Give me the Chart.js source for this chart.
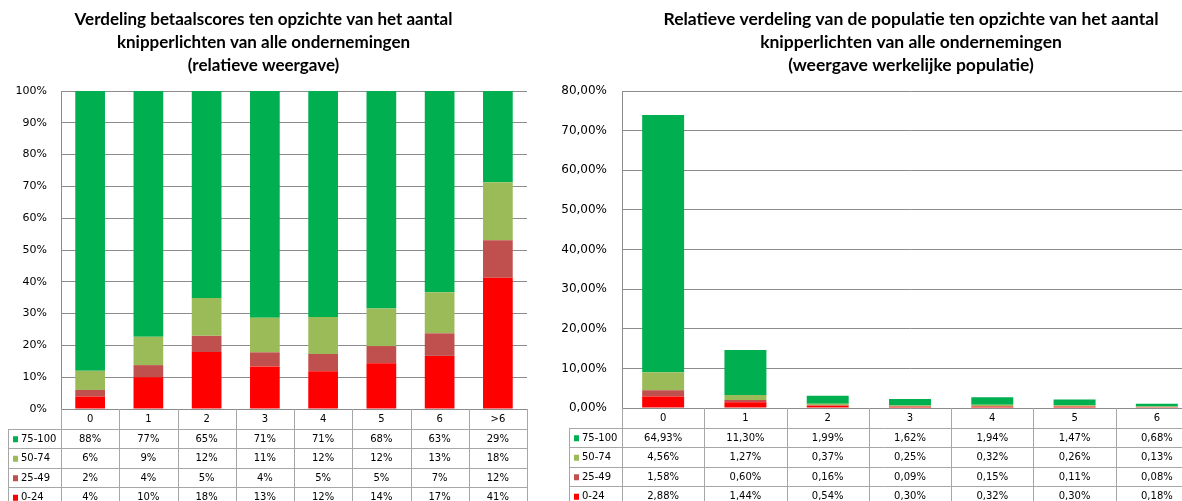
<!DOCTYPE html>
<html lang="nl">
<head>
    <meta charset="UTF-8">
    <title>Verdeling betaalscores en knipperlichten</title>
    <script src="https://cdn.jsdelivr.net/npm/chart.js@4.4.1/dist/chart.umd.min.js"></script>
    <style>
        body {
            margin: 0;
            background: #ffffff;
            overflow: hidden;
            width: 1182px;
            height: 501px;
            position: relative;
        }
        canvas {
            position: absolute;
            top: 0;
        }
        #leftChart { left: 0; }
        #rightChart { left: 540px; }
    </style>
</head>
<body>
    <canvas id="leftChart" width="530" height="501"></canvas>
    <canvas id="rightChart" width="742" height="501"></canvas>

    <script>
        // Series names (bottom of the stack first)
        const seriesNames = ['0-24', '25-49', '50-74', '75-100'];
        const seriesColors = ['#ff0000', '#c0504d', '#9bbb59', '#00b050'];

        // Left chart: relative distribution per number of warning lights
        const leftCategories = ['0', '1', '2', '3', '4', '5', '6', '>6'];
        const left0to24 = [3.9, 10.0, 17.9, 13.4, 11.9, 14.4, 16.7, 41.3];
        const left25to49 = [2.1, 3.8, 5.1, 4.4, 5.4, 5.4, 7.1, 11.8];
        const left50to74 = [6.0, 8.9, 11.9, 10.9, 11.6, 11.8, 12.9, 18.2];
        const left75to100 = [88.0, 77.3, 65.1, 71.3, 71.1, 68.4, 63.3, 28.7];
        const leftTicks = [0, 10, 20, 30, 40, 50, 60, 70, 80, 90, 100];

        // Right chart: share of the whole population
        const rightCategories = ['0', '1', '2', '3', '4', '5', '6'];
        const right0to24 = [2.88, 1.44, 0.54, 0.30, 0.32, 0.30, 0.18];
        const right25to49 = [1.58, 0.60, 0.16, 0.09, 0.15, 0.11, 0.08];
        const right50to74 = [4.56, 1.27, 0.37, 0.25, 0.32, 0.26, 0.13];
        const right75to100 = [64.93, 11.30, 1.99, 1.62, 1.94, 1.47, 0.68];
        const rightTicks = [0, 10, 20, 30, 40, 50, 60, 70, 80];

        const gridColor = '#8c8c8c';
        const tableColor = '#a6a6a6';

        // draws the data table under the plot, using the x scale's columns
        function tablePlugin(format, legendLeft) {
            return {
                id: 'dataTable',
                afterDraw(chart) {
                    const ctx = chart.ctx;
                    const area = chart.chartArea;
                    const labels = chart.data.labels;
                    const n = labels.length;
                    const colW = (area.right - area.left) / n;
                    const top = area.bottom;
                    const rowH = 19.5;
                    const bottom = chart.height + 5;
                    const sets = chart.data.datasets.slice().reverse();

                    ctx.save();
                    ctx.strokeStyle = tableColor;
                    ctx.lineWidth = 1;
                    ctx.beginPath();
                    for (let i = 0; i <= n; i++) {
                        const x = Math.round(area.left + i * colW) + 0.5;
                        ctx.moveTo(x, top);
                        ctx.lineTo(x, bottom);
                    }
                    for (let r = 1; r <= 4; r++) {
                        const y = Math.round(top + r * rowH) + 0.5;
                        ctx.moveTo(legendLeft, y);
                        ctx.lineTo(area.right, y);
                    }
                    ctx.moveTo(legendLeft + 0.5, Math.round(top + rowH));
                    ctx.lineTo(legendLeft + 0.5, bottom);
                    ctx.stroke();

                    ctx.font = '10px "DejaVu Sans"';
                    ctx.fillStyle = '#000';
                    ctx.textBaseline = 'middle';
                    ctx.textAlign = 'center';
                    labels.forEach((lab, i) => {
                        ctx.fillText(lab, area.left + (i + 0.5) * colW, top + rowH / 2 + 1);
                    });
                    sets.forEach((ds, r) => {
                        const yMid = top + (r + 1.5) * rowH + 1;
                        ctx.textAlign = 'center';
                        ctx.fillStyle = '#000';
                        ds.data.forEach((v, i) => {
                            ctx.fillText(format(v), area.left + (i + 0.5) * colW, yMid);
                        });
                        ctx.fillStyle = ds.backgroundColor;
                        ctx.fillRect(legendLeft + 5, yMid - 3, 5, 6);
                        ctx.fillStyle = '#000';
                        ctx.textAlign = 'left';
                        ctx.fillText(ds.label, legendLeft + 13, yMid);
                    });
                    ctx.restore();
                }
            };
        }

        function makeDatasets(series, barPct) {
            return series.map((data, i) => ({
                label: seriesNames[i],
                data: data,
                backgroundColor: seriesColors[i],
                borderWidth: 0,
                barPercentage: barPct,
                categoryPercentage: 1
            }));
        }

        function makeChart(id, cfg) {
            const scales = {
                x: { stacked: true, display: false },
                y: {
                    stacked: true,
                    min: cfg.ticks[0],
                    max: cfg.ticks[cfg.ticks.length - 1],
                    afterBuildTicks: (s) => { s.ticks = cfg.ticks.map(v => ({ value: v })); },
                    afterFit: (s) => { s.width = cfg.axisWidth; },
                    ticks: {
                        callback: cfg.tickFormat,
                        color: '#000',
                        font: { family: 'DejaVu Sans', size: cfg.tickSize },
                        padding: cfg.tickPad
                    },
                    grid: { color: gridColor, drawTicks: false },
                    border: { color: gridColor }
                }
            };
            // empty right axis: keeps room at the right so the title stays centred on the full chart
            if (cfg.rightSpace) {
                scales.yRight = {
                    position: 'right',
                    min: 0,
                    max: 1,
                    ticks: { display: false },
                    grid: { display: false },
                    border: { display: false },
                    afterFit: (s) => { s.width = cfg.rightSpace; }
                };
            }
            return new Chart(document.getElementById(id), {
                type: 'bar',
                data: {
                    labels: cfg.labels,
                    datasets: makeDatasets(cfg.series, 0.51)
                },
                options: {
                    responsive: false,
                    animation: false,
                    layout: { padding: { left: 0, right: cfg.padRight, top: 7, bottom: cfg.padBottom } },
                    plugins: {
                        legend: { display: false },
                        tooltip: { enabled: false },
                        title: {
                            display: true,
                            text: cfg.title,
                            color: '#000',
                            font: { family: 'Lato', size: cfg.titleSize, weight: 'bold', lineHeight: 23 / cfg.titleSize },
                            padding: { top: 1, bottom: 14 }
                        }
                    },
                    scales: scales
                },
                plugins: [tablePlugin(cfg.valueFormat, cfg.legendLeft)]
            });
        }

        makeChart('leftChart', {
            labels: leftCategories,
            series: [left0to24, left25to49, left50to74, left75to100],
            ticks: leftTicks,
            title: ['Verdeling betaalscores ten opzichte van het aantal',
                    'knipperlichten van alle ondernemingen',
                    '(relatieve weergave)'],
            titleSize: 17,
            tickFormat: v => v + '%',
            valueFormat: v => Math.round(v) + '%',
            axisWidth: 61,
            tickSize: 11,
            tickPad: 14,
            padRight: 3,
            padBottom: 92,
            legendLeft: 8
        });

        makeChart('rightChart', {
            labels: rightCategories,
            series: [right0to24, right25to49, right50to74, right75to100],
            ticks: rightTicks,
            title: ['Relatieve verdeling van de populatie ten opzichte van het aantal',
                    'knipperlichten van alle ondernemingen',
                    '(weergave werkelijke populatie)'],
            titleSize: 17.5,
            tickFormat: v => v.toFixed(2).replace('.', ',') + '%',
            valueFormat: v => v.toFixed(2).replace('.', ',') + '%',
            axisWidth: 82,
            tickSize: 12,
            tickPad: 15,
            padRight: 0,
            rightSpace: 84,
            padBottom: 93,
            legendLeft: 29
        });
    </script>
</body>
</html>
